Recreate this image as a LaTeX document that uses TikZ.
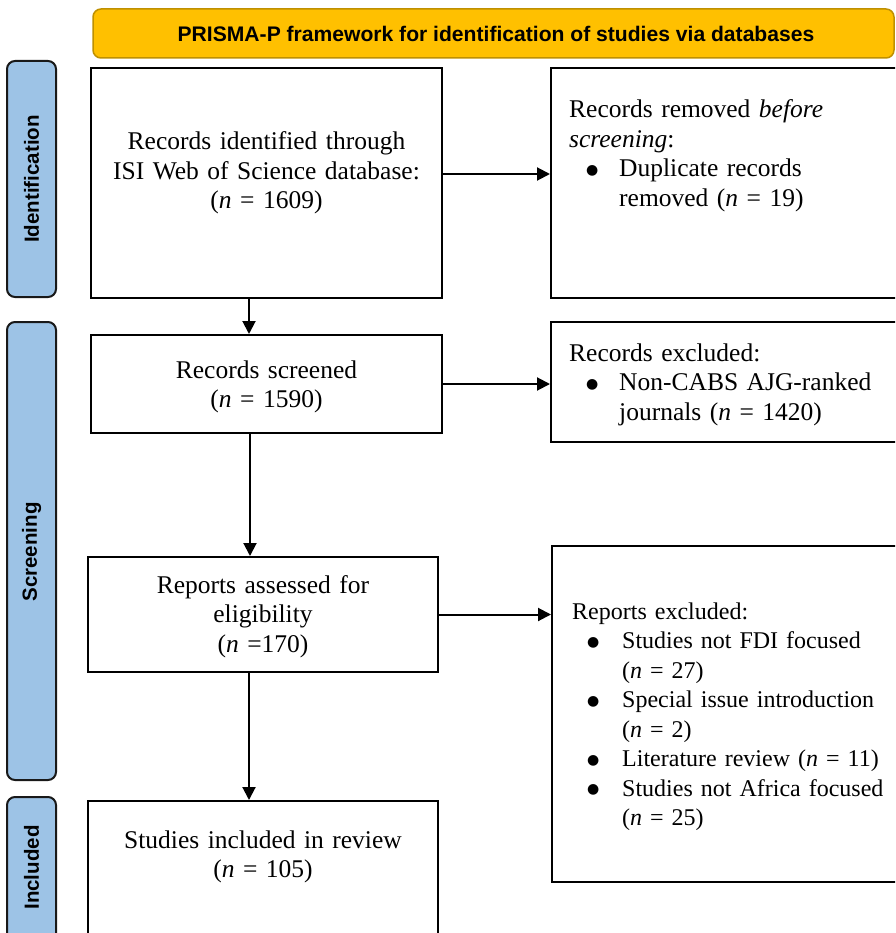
\documentclass[tikz,border=0pt]{standalone}
\usepackage{fontspec}
\setmainfont{Liberation Serif}
\setsansfont{Liberation Sans}
\newfontfamily\symfont{DejaVu Sans}
\usetikzlibrary{arrows.meta}
\definecolor{titlegold}{HTML}{FFC000}
\definecolor{titleedge}{HTML}{BF9000}
\definecolor{sideblue}{HTML}{9DC3E6}
\newcommand{\blt}{\makebox[0pt]{\raisebox{2.5pt}{\fontsize{14}{14}\symfont ●}}}

\begin{document}
\begin{tikzpicture}[x=1pt, y=-1pt,
	box/.style={draw=black, line width=2pt, fill=white, inner sep=0pt},
	side/.style={draw=black!90, line width=2pt, fill=sideblue, rounded corners=8pt, inner sep=0pt, minimum width=49pt},
	sidelbl/.style={rotate=90, inner sep=0pt, font=\sffamily\bfseries\fontsize{20.5}{24}\selectfont},
	txt/.style={inner sep=0pt, font=\fontsize{25.5}{29.5}\selectfont, text width=330pt},
	arr/.style={line width=2pt, -{Triangle[length=13pt, width=13pt]}}]
	
	\useasboundingbox (0,0) rectangle (895,933);
	\clip (0,0) rectangle (895,933);
	
	\node[draw=titleedge, line width=1.5pt, fill=titlegold, rounded corners=8pt, minimum width=801pt, minimum height=49pt, inner sep=0pt] (title) at (493.5,33.5) {};
	\node[font=\sffamily\bfseries\fontsize{21.1}{24}\selectfont, anchor=base, inner sep=0pt] (titletxt) at (496,42) {PRISMA-P framework for identification of studies via databases};
	
	\node[side, minimum height=236pt] (idside) at (31.5,179) {};
	\node[side, minimum height=458pt] (scrside) at (31.5,551) {};
	\node[side, minimum height=173pt] (incside) at (31.5,883.5) {};
	\node[sidelbl] (idlbl) at (31.5,179) {Identification};
	\node[sidelbl] (scrlbl) at (31.5,552) {Screening};
	\node[sidelbl] (inclbl) at (31.5,867.5) {Included};
	
	\node[box, minimum width=351pt, minimum height=230pt] (ident) at (266.5,183) {};
	\node[box, minimum width=354pt, minimum height=230pt] (removed) at (728,183) {};
	\node[box, minimum width=351pt, minimum height=98pt] (screen) at (266.5,384) {};
	\node[box, minimum width=354pt, minimum height=120pt] (excl) at (728,382) {};
	\node[box, minimum width=350pt, minimum height=115pt] (assess) at (263,614.5) {};
	\node[box, minimum width=353pt, minimum height=336pt] (repexcl) at (728.5,714) {};
	\node[box, minimum width=350pt, minimum height=179pt] (incl) at (263,890.5) {};
	
	\node[txt, anchor=base, align=center] (identtxt) at (266.5,150) {Records identified through\\ ISI Web of Science database:\\ (\textit{n} = 1609)\hspace*{34pt}};
	\node[txt, anchor=base west, align=left] (removedtxt) at (569,118) {Records removed \textit{before}\\ \textit{screening}:\\
		\hspace*{23pt}\blt\hspace*{27pt}Duplicate records\\
		\hspace*{50pt}removed (\textit{n} = 19)};
	\node[txt, anchor=base, align=center] (screentxt) at (266.5,378) {Records screened\\ (\textit{n} = 1590)};
	\node[txt, anchor=base west, align=left] (excltxt) at (569,361) {Records excluded:\\
		\hspace*{23pt}\blt\hspace*{27pt}Non-CABS AJG-ranked\\
		\hspace*{50pt}journals (\textit{n} = 1420)};
	\node[txt, anchor=base, align=center] (assesstxt) at (263,593) {Reports assessed for\\ eligibility\\ (\textit{n} =170)};
	\node[txt, anchor=base west, align=left, font=\fontsize{24}{29.5}\selectfont] (repexcltxt) at (572,619) {Reports excluded:\\
		\hspace*{21pt}\blt\hspace*{29pt}Studies not FDI focused\\
		\hspace*{50pt}(\textit{n} = 27)\\
		\hspace*{21pt}\blt\hspace*{29pt}Special issue introduction\\
		\hspace*{50pt}(\textit{n} = 2)\\
		\hspace*{21pt}\blt\hspace*{29pt}Literature review (\textit{n} = 11)\\
		\hspace*{21pt}\blt\hspace*{29pt}Studies not Africa focused\\
		\hspace*{50pt}(\textit{n} = 25)};
	\node[txt, anchor=base, align=center] (incltxt) at (263,848) {Studies included in review\\ (\textit{n} = 105)};
	
	\draw[arr] ([xshift=-17.5pt]ident.south) -- ([xshift=-17.5pt]screen.north);
	\draw[arr] ([xshift=-16.5pt]screen.south) -- ([xshift=-16.5pt]screen.south |- assess.north);
	\draw[arr] ([xshift=-14pt]assess.south) -- ([xshift=-14pt]assess.south |- incl.north);
	\draw[arr] ([yshift=9pt]ident.east) -- ([yshift=9pt]removed.west);
	\draw[arr] (screen.east) -- (screen.east -| excl.west);
	\draw[arr] (assess.east) -- (assess.east -| repexcl.west);
\end{tikzpicture}
\end{document}
